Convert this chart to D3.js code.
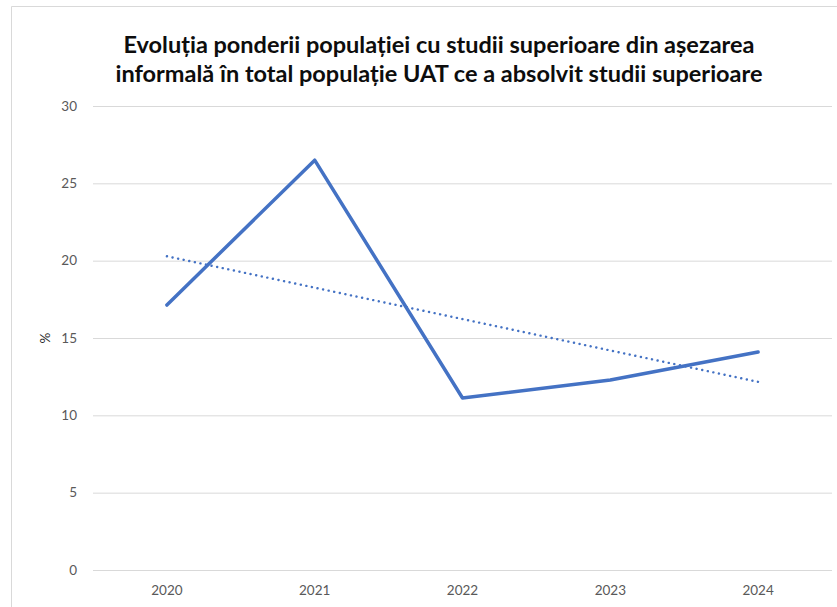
<!DOCTYPE html>
<html>
<head>
<meta charset="utf-8">
<script src="https://cdn.jsdelivr.net/npm/d3@7"></script>
<style>
  body { margin: 0; background: #fff; }
  svg { display: block; font-family: Lato, "Open Sans", sans-serif; }
</style>
</head>
<body>
<script>
// chart data
var years = ['2020', '2021', '2022', '2023', '2024'];
var values = [17.13, 26.5, 11.12, 12.28, 14.09];
var yTicks = [0, 5, 10, 15, 20, 25, 30];
var titleLines = [
	'Evoluția ponderii populației cu studii superioare din așezarea',
	'informală în total populație UAT ce a absolvit studii superioare'
];

var props = {};
props.width = 837;
props.height = 607;
props.margin = { top: 106, right: 5, bottom: 37, left: 93 };
props.innerW = 832 - props.margin.left;
props.innerH = 570 - props.margin.top;

var svg = d3.select('body')
	.append('svg')
		.attr('width', props.width)
		.attr('height', props.height);

// outer chart border (only top and left visible in the crop)
svg.append('path')
	.attr('d', 'M11.5,' + props.height + 'V6.5H' + props.width)
	.attr('fill', 'none')
	.attr('stroke', '#d9d9d9')
	.attr('stroke-width', 1);

// title
svg.append('g')
	.attr('class', 'title')
	.selectAll('text')
	.data(titleLines)
	.enter().append('text')
		.attr('x', 439)
		.attr('y', function(d, i) { return 53 + i * 29; })
		.attr('text-anchor', 'middle')
		.style('font-size', '23.5px')
		.style('font-weight', 'bold')
		.style('fill', '#0d0d0d')
		.text(function(d) { return d; });

var g = svg.append('g')
	.attr('transform', 'translate(' + props.margin.left + ',' + props.margin.top + ')');

var x = d3.scaleBand()
	.domain(years)
	.range([0, props.innerW]);

var y = d3.scaleLinear()
	.domain([0, 30])
	.range([props.innerH, 0]);

// gridlines + y labels
var yAxis = d3.axisLeft(y)
	.tickValues(yTicks)
	.tickSize(-props.innerW)
	.tickPadding(16);

g.append('g')
	.attr('class', 'y axis')
	.call(yAxis)
	.call(function(s) {
		s.select('.domain').remove();
		s.selectAll('.tick line').attr('stroke', '#d9d9d9').attr('stroke-width', 1);
		s.selectAll('.tick text')
			.attr('fill', '#595959')
			.style('font-size', '13.5px')
			.style('font-family', 'Lato, sans-serif');
	});

// x labels
var xAxis = d3.axisBottom(x)
	.tickSize(0)
	.tickPadding(15);

g.append('g')
	.attr('class', 'x axis')
	.attr('transform', 'translate(0,' + props.innerH + ')')
	.call(xAxis)
	.call(function(s) {
		s.select('.domain').remove();
		s.selectAll('.tick text')
			.attr('fill', '#595959')
			.style('font-size', '13.5px')
			.style('font-family', 'Lato, sans-serif');
	});

// y axis title
svg.append('text')
	.attr('transform', 'translate(50,' + (props.margin.top + props.innerH / 2) + ') rotate(-90)')
	.attr('text-anchor', 'middle')
	.style('font-size', '13.5px')
	.style('fill', '#262626')
	.text('%');

var cx = function(d, i) { return x(years[i]) + x.bandwidth() / 2; };

// linear trend (least squares over the series)
var mx = d3.mean(values, function(d, i) { return i; });
var my = d3.mean(values);
var slope = d3.sum(values, function(d, i) { return (i - mx) * (d - my); }) /
	d3.sum(values, function(d, i) { return (i - mx) * (i - mx); });
var trend = values.map(function(d, i) { return my + slope * (i - mx); });

var line = d3.line()
	.x(cx)
	.y(function(d) { return y(d); });

g.append('path')
	.datum(trend)
	.attr('fill', 'none')
	.attr('stroke', '#4472c4')
	.attr('stroke-width', 2.4)
	.attr('stroke-linecap', 'round')
	.attr('stroke-dasharray', '0.1,5.6')
	.attr('d', line);

g.append('path')
	.datum(values)
	.attr('fill', 'none')
	.attr('stroke', '#4472c4')
	.attr('stroke-width', 3.5)
	.attr('stroke-linejoin', 'round')
	.attr('stroke-linecap', 'round')
	.attr('d', line);
</script>
</body>
</html>
